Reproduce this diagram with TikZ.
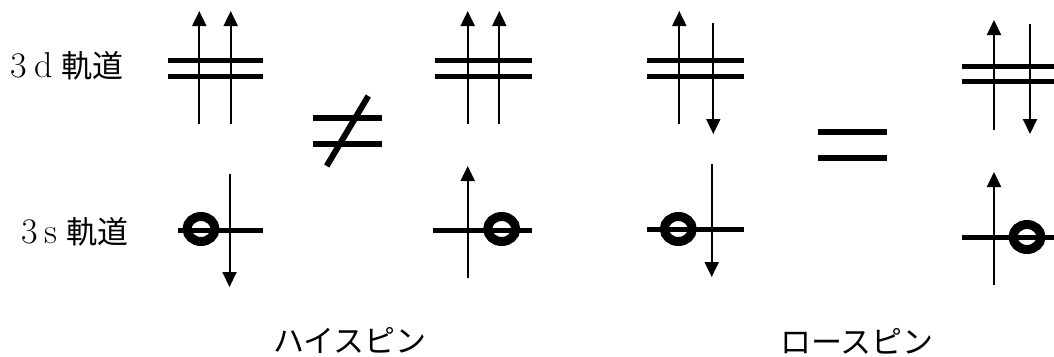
\documentclass[tikz,border=0pt]{standalone}
\usepackage{fontspec}
\newfontfamily\jp{Noto Sans CJK JP}
\usetikzlibrary{arrows.meta}
\begin{document}
\begin{tikzpicture}[x=1pt,y=-1pt,
  bar/.style={line width=5pt},
  spin/.style={line width=2pt,-{Triangle[length=15pt,width=14pt]}},
  orb/.style={line width=9pt},
  rel/.style={line width=6pt},
  lbl/.style={inner sep=0pt,font=\fontsize{36}{40}\selectfont},
  captext/.style={inner sep=0pt,anchor=base,text depth=0pt,font=\fontsize{31}{36}\selectfont\jp}]
\useasboundingbox (0,0) rectangle (1054,356);
\clip (0,0) rectangle (1054,356);
% labels
\node[lbl,anchor=base west] (l3d) at (10.5,77) {3\hspace{7pt}d\hspace{9pt}{\fontsize{31}{36}\selectfont\jp 軌道}};
\node[lbl,anchor=base west] (l3s) at (21,243.5) {3\hspace{7pt}s\hspace{9pt}{\fontsize{31}{36}\selectfont\jp 軌道}};
\node[captext] (hs) at (350,352.5) {ハイスピン};
\node[captext] (ls) at (857,353) {ロースピン};
% group 1
\draw[bar] (167.7,60.7) -- (263.3,60.7);
\draw[bar] (167.7,76) -- (263.3,76);
\draw[spin] (199.3,124) -- (199.3,11);
\draw[spin] (230.7,124) -- (230.7,11);
\draw[bar] (178,230) -- (263,230);
\draw[orb] (201,229) ellipse [x radius=14, y radius=12.5];
\draw[spin] (229.5,174) -- (229.5,287);
% not equal
\draw[rel] (312.7,118.3) -- (382.3,118.3);
\draw[rel] (312.7,144) -- (382.3,144);
\draw[rel] (326.7,166) -- (368.3,96);
% group 2
\draw[bar] (435,60.7) -- (532.3,60.7);
\draw[bar] (435,76) -- (532.3,76);
\draw[spin] (467.7,124) -- (467.7,11);
\draw[spin] (499.3,124) -- (499.3,11);
\draw[bar] (433,230) -- (532,230);
\draw[orb] (501.7,229) ellipse [x radius=14, y radius=12.5];
\draw[spin] (467.7,278) -- (467.7,166);
% group 3
\draw[bar] (646.7,60.7) -- (744,60.7);
\draw[bar] (646.7,76) -- (744,76);
\draw[spin] (679.3,124) -- (679.3,11);
\draw[spin] (713.3,23) -- (713.3,134);
\draw[bar] (646.7,229) -- (744,229);
\draw[orb] (678.3,229) ellipse [x radius=14, y radius=12.5];
\draw[spin] (711.7,164) -- (711.7,277);
% equal
\draw[rel] (818.3,132.3) -- (886.7,132.3);
\draw[rel] (818.3,158.3) -- (886.7,158.3);
% group 4
\draw[bar] (961.7,66) -- (1060,66);
\draw[bar] (961.7,81.7) -- (1060,81.7);
\draw[spin] (994,130) -- (994,20);
\draw[spin] (1030,24) -- (1030,134);
\draw[bar] (961.7,237.3) -- (1060,237.3);
\draw[orb] (1027,237) ellipse [x radius=14, y radius=12.5];
\draw[spin] (994,285) -- (994,172);
\end{tikzpicture}
\end{document}
